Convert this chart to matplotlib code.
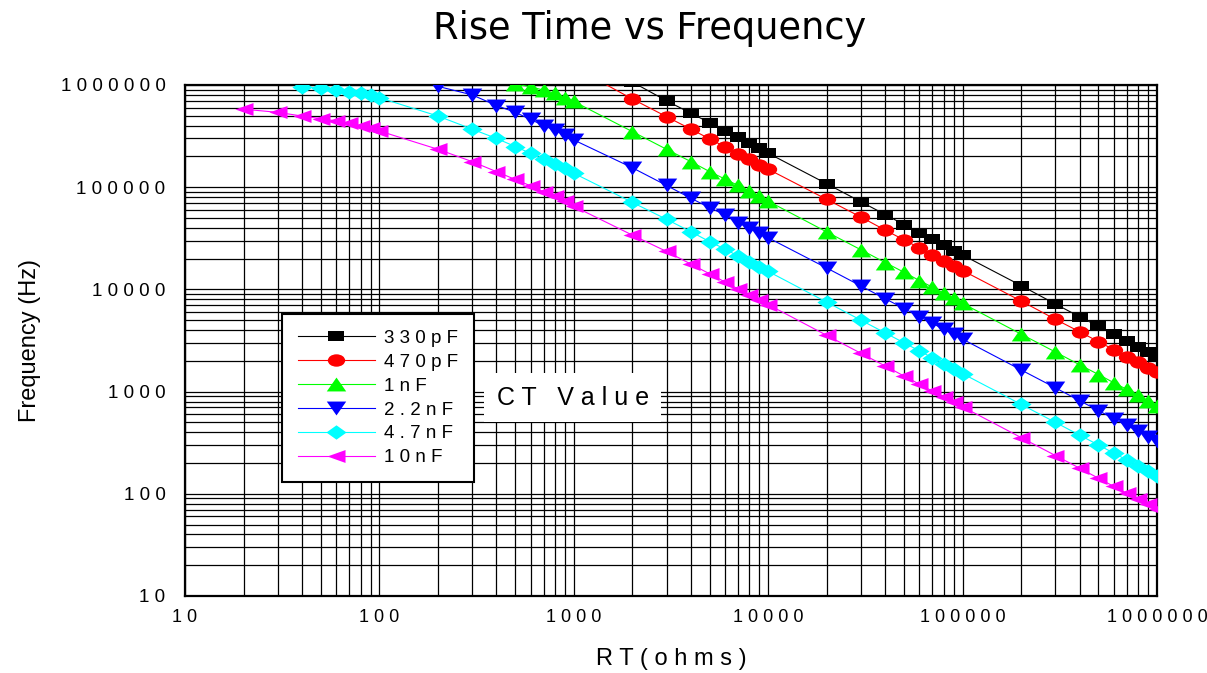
import matplotlib
matplotlib.use("Agg")
import matplotlib.pyplot as plt
import numpy as np
from matplotlib.markers import MarkerStyle
from matplotlib.path import Path

plt.rcParams['font.family'] = ['Liberation Sans', 'DejaVu Sans']

# 数据：RT (ohms) 与各电容对应的频率 (Hz)，nan 表示该点没有画出
rt = [20, 30, 40, 50, 60, 70, 80, 90, 100,
      200, 300, 400, 500, 600, 700, 800, 900, 1000,
      2000, 3000, 4000, 5000, 6000, 7000, 8000, 9000, 10000,
      20000, 30000, 40000, 50000, 60000, 70000, 80000, 90000, 100000,
      200000, 300000, 400000, 500000, 600000, 700000, 800000, 900000, 1000000]

nan = np.nan
f_330p = [nan, nan, nan, nan, nan, nan, nan, nan, nan,
          nan, nan, nan, nan, nan, nan, nan, nan, 2.15e6,
          1.07e6, 7.0e5, 5.3e5, 4.27e5, 3.57e5, 3.08e5, 2.69e5, 2.4e5, 2.15e5,
          1.08e5, 7.2e4, 5.4e4, 4.3e4, 3.6e4, 3.1e4, 2.7e4, 2.4e4, 2.17e4,
          1.09e4, 7.2e3, 5.4e3, 4.35e3, 3.62e3, 3.1e3, 2.72e3, 2.42e3, 2.18e3]
f_470p = [nan, nan, nan, nan, nan, nan, nan, nan, nan,
          nan, nan, nan, nan, nan, nan, nan, nan, 1.5e6,
          7.3e5, 4.9e5, 3.7e5, 2.97e5, 2.48e5, 2.12e5, 1.87e5, 1.66e5, 1.5e5,
          7.6e4, 5.1e4, 3.8e4, 3.05e4, 2.55e4, 2.18e4, 1.9e4, 1.7e4, 1.53e4,
          7.7e3, 5.1e3, 3.85e3, 3.08e3, 2.57e3, 2.2e3, 1.93e3, 1.71e3, 1.54e3]
f_1n = [nan, nan, nan, nan, nan, nan, nan, nan, nan,
        nan, nan, nan, 1.02e6, 9.6e5, 8.9e5, 8.3e5, 7.5e5, 6.9e5,
        3.5e5, 2.35e5, 1.78e5, 1.42e5, 1.2e5, 1.04e5, 9.2e4, 8.2e4, 7.3e4,
        3.65e4, 2.44e4, 1.83e4, 1.47e4, 1.22e4, 1.05e4, 9.2e3, 8.2e3, 7.3e3,
        3.65e3, 2.44e3, 1.83e3, 1.47e3, 1.22e3, 1.05e3, 920, 815, 730]
f_2n2 = [nan, nan, nan, nan, nan, nan, nan, nan, nan,
         9.7e5, 8.0e5, 6.3e5, 5.4e5, 4.6e5, 4.0e5, 3.6e5, 3.24e5, 2.9e5,
         1.55e5, 1.04e5, 7.8e4, 6.3e4, 5.35e4, 4.5e4, 3.97e4, 3.55e4, 3.2e4,
         1.62e4, 1.08e4, 8.1e3, 6.5e3, 5.4e3, 4.65e3, 4.07e3, 3.62e3, 3.26e3,
         1.63e3, 1.09e3, 815, 652, 543, 466, 408, 362, 326]
f_4n7 = [nan, nan, 9.6e5, 9.3e5, 8.9e5, 8.6e5, 8.3e5, 8.0e5, 7.5e5,
         4.97e5, 3.7e5, 3.0e5, 2.5e5, 2.14e5, 1.87e5, 1.69e5, 1.53e5, 1.37e5,
         7.1e4, 4.85e4, 3.67e4, 2.93e4, 2.48e4, 2.12e4, 1.87e4, 1.66e4, 1.5e4,
         7.5e3, 5.0e3, 3.75e3, 3.0e3, 2.5e3, 2.14e3, 1.87e3, 1.66e3, 1.5e3,
         750, 500, 375, 300, 250, 214, 187, 166, 150]
f_10n = [5.8e5, 5.4e5, 4.97e5, 4.68e5, 4.45e5, 4.22e5, 3.98e5, 3.77e5, 3.55e5,
         2.35e5, 1.78e5, 1.42e5, 1.19e5, 1.03e5, 9.0e4, 8.2e4, 7.4e4, 6.5e4,
         3.4e4, 2.35e4, 1.77e4, 1.42e4, 1.18e4, 1.01e4, 8.9e3, 7.9e3, 7.1e3,
         3.55e3, 2.37e3, 1.78e3, 1.42e3, 1.18e3, 1.01e3, 890, 790, 710,
         355, 237, 178, 142, 118, 101, 89, 79, 71]

labels = ["330pF", "470pF", "1nF", "2.2nF", "4.7nF", "10nF"]
series = [f_330p, f_470p, f_1n, f_2n2, f_4n7, f_10n]
colors = ["#000000", "#ff0000", "#00ff00", "#0000ff", "#00ffff", "#ff00ff"]
marks = ["s", "o", "^", "v", "D", "<"]
msizes = [11, 12.5, 14, 14, 14.5, 13]

x_ticks = [10, 100, 1000, 10000, 100000, 1000000]
y_ticks = [10, 100, 1000, 10000, 100000, 1000000]


def spaced(s):
    return " ".join(s)


def wide_marker(m, sx=1.4):
    # 原图的标记被横向拉宽
    ms = MarkerStyle(m)
    p = ms.get_path().transformed(ms.get_transform())
    return Path(p.vertices * np.array([sx, 1.0]), p.codes)


fig = plt.figure(figsize=(12.07, 6.73), dpi=100)
ax = fig.add_axes([185 / 1207, 1 - 596 / 673, 972 / 1207, 511 / 673])

for y, lab, c, m, s in zip(series, labels, colors, marks, msizes):
    ax.plot(rt, y, color=c, lw=0.8, marker=wide_marker(m), markersize=s,
            markeredgewidth=0, label=spaced(lab), zorder=3)

ax.set_xscale("log")
ax.set_yscale("log")
ax.set_xlim(10, 1e6)
ax.set_ylim(10, 1e6)
ax.set_xticks(x_ticks, [spaced(str(t)) for t in x_ticks])
ax.set_yticks(y_ticks, [spaced(str(t)) for t in y_ticks])
ax.tick_params(which="both", length=0, labelsize=13.5)
ax.tick_params(axis="y", pad=14)
ax.tick_params(axis="x", pad=9, labelsize=13)
ax.grid(True, which="both", color="black", lw=0.9)
for sp in ax.spines.values():
    sp.set_linewidth(1.6)

ax.set_xlabel(spaced("RT(ohms)"), fontsize=17, labelpad=16)
ax.set_ylabel("Frequency (Hz)", fontsize=17, labelpad=14)
fig.suptitle("Rise Time vs Frequency", x=650 / 1207, y=0.985, fontsize=26.5,
             family=["DejaVu Sans"], va="top")

leg = ax.legend(loc="upper left", bbox_to_anchor=(0.0998, 0.552), borderaxespad=0,
                fancybox=False, framealpha=1, edgecolor="black", fontsize=13.5,
                numpoints=1, handlelength=4.1, labelspacing=0.36,
                borderpad=0.85, handletextpad=0.5)
leg.get_frame().set_linewidth(1.5)
leg.set_zorder(5)

ax.text(0.399, 0.388, "C T   V a l u e", transform=ax.transAxes, fontsize=18,
        ha="center", va="center", zorder=6,
        bbox=dict(facecolor="white", edgecolor="none", pad=9))

fig.savefig("out.png", dpi=100)
